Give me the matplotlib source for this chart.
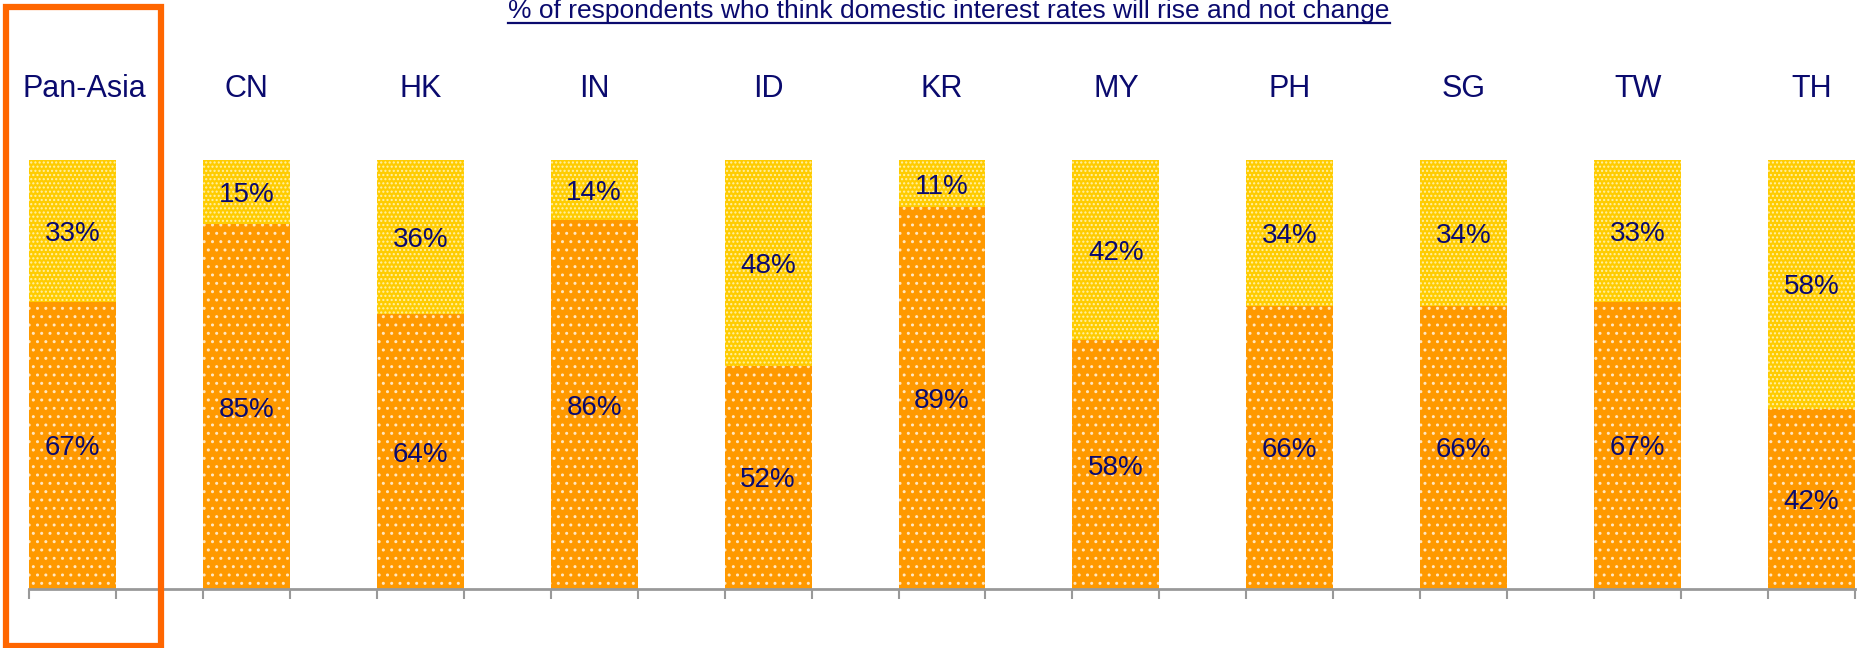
import matplotlib
matplotlib.use("Agg")
import matplotlib.pyplot as plt
from matplotlib.patches import Rectangle
from matplotlib.lines import Line2D

# chart data
categories = ["Pan-Asia", "CN", "HK", "IN", "ID", "KR", "MY", "PH", "SG", "TW", "TH"]
rise = [67, 85, 64, 86, 52, 89, 58, 66, 66, 67, 42]
no_change = [33, 15, 36, 14, 48, 11, 42, 34, 34, 33, 58]
title = "% of respondents who think domestic interest rates will rise and not change"

NAVY = "#0A0A6E"
plt.rcParams["font.family"] = ["Liberation Sans", "DejaVu Sans"]
plt.rcParams["hatch.linewidth"] = 1.0

W, H = 1860, 648
fig = plt.figure(figsize=(W / 100, H / 100), dpi=100)
ax = fig.add_axes([29 / W, 59 / H, (1855 - 29) / W, 429 / H])

# bars sit on every other slot, gaps in between
xs = [2 * i for i in range(len(categories))]
ax.bar(xs, rise, width=1.0, color="#FF9900", edgecolor="#FFE6C0",
       linewidth=0, hatch="..")
ax.bar(xs, no_change, width=1.0, bottom=rise, color="#FFCC00",
       edgecolor="#FFF0A8", linewidth=0, hatch="....")

# percentage labels: digits centred on each segment (baseline ~7pt below centre)
for x, r, n in zip(xs, rise, no_change):
    for yc, v in ((r / 2, r), (r + n / 2, n)):
        ax.annotate(f"{v}%", (x, yc), xytext=(0, -7.2), textcoords="offset points",
                    ha="center", va="baseline", fontsize=20, color=NAVY)

# country names above the bars
for x, name in zip(xs, categories):
    dx = 0.14 if name == "Pan-Asia" else 0  # centred in the highlight box
    ax.text(x + dx, 114.7, name, ha="center", va="baseline", fontsize=22,
            color=NAVY, clip_on=False)

ax.set_xlim(-0.5, 2 * len(categories) - 1.5)
ax.set_ylim(0, 100)
ax.set_xticks([i - 0.5 for i in range(2 * len(categories))])
ax.set_xticklabels([])
ax.set_yticks([])
ax.tick_params(axis="x", direction="out", length=7, width=1.5, color="#999999")
for side in ("top", "right", "left"):
    ax.spines[side].set_visible(False)
ax.spines["bottom"].set_color("#999999")
ax.spines["bottom"].set_linewidth(2)

# underlined title, partly cut at the top edge
t = fig.text(949 / W, 1 - 18 / H, title, ha="center", va="baseline",
             fontsize=19, color=NAVY)
fig.canvas.draw()
bb = t.get_window_extent()
fig.add_artist(Line2D([bb.x0 / W, bb.x1 / W], [(H - 23) / H, (H - 23) / H],
                      transform=fig.transFigure, color=NAVY, linewidth=1.6))

# highlight box round Pan-Asia
fig.add_artist(Rectangle((6 / W, 2 / H), 155 / W, (H - 9) / H,
                         transform=fig.transFigure, fill=False,
                         edgecolor="#FF6600", linewidth=4.5))

fig.savefig("out.png", dpi=100)
